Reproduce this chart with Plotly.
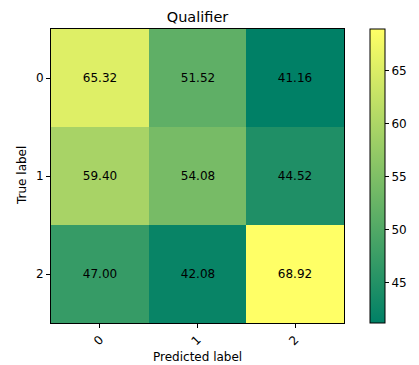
import plotly.graph_objects as go

# Confusion matrix values (percent)
classes = ["0", "1", "2"]
matrix = [
    [65.32, 51.52, 41.16],
    [59.40, 54.08, 44.52],
    [47.00, 42.08, 68.92],
]
cbar_ticks = [45, 50, 55, 60, 65]

FONT = "DejaVu Sans"
FS = 12
W, H = 419, 365
ML, MR, MT, MB = 51, 75, 29, 42

# matplotlib "summer" colormap: dark green -> yellow
summer = [[0.0, "rgb(0,128,102)"], [1.0, "rgb(255,255,102)"]]

fig = go.Figure(
    go.Heatmap(
        z=matrix,
        x=[0, 1, 2],
        y=[0, 1, 2],
        colorscale=summer,
        texttemplate="%{z:.2f}",
        textfont=dict(family=FONT, size=FS, color="black"),
        xgap=0,
        ygap=0,
        colorbar=dict(
            x=1.089,
            xanchor="left",
            y=0.5,
            yanchor="middle",
            len=1.0,
            lenmode="fraction",
            thickness=15,
            thicknessmode="pixels",
            outlinewidth=1,
            outlinecolor="black",
            tickvals=cbar_ticks,
            ticks="outside",
            ticklen=4,
            tickcolor="black",
            tickfont=dict(family=FONT, size=FS, color="black"),
            xpad=0,
            ypad=0,
        ),
    )
)

plot_w = W - ML - MR
plot_h = H - MT - MB

fig.update_layout(
    width=W,
    height=H,
    margin=dict(l=ML, r=MR, t=MT, b=MB, autoexpand=False),
    paper_bgcolor="white",
    plot_bgcolor="white",
    title=dict(
        text="Qualifier",
        x=(ML + W - MR) / 2 / W,
        xanchor="center",
        y=1 - 17 / H,
        yanchor="middle",
        font=dict(family=FONT, size=14.5, color="black"),
    ),
    annotations=[
        dict(
            text="Predicted label",
            xref="paper", yref="paper",
            x=0.5, y=-(357 - (H - MB)) / plot_h,
            xanchor="center", yanchor="middle",
            showarrow=False,
            font=dict(family=FONT, size=FS, color="black"),
        ),
        dict(
            text="True label",
            xref="paper", yref="paper",
            x=-(ML - 22) / plot_w, y=0.5,
            xanchor="center", yanchor="middle",
            textangle=-90,
            showarrow=False,
            font=dict(family=FONT, size=FS, color="black"),
        ),
    ],
)

axis_common = dict(
    tickvals=[0, 1, 2],
    ticktext=classes,
    ticks="outside",
    ticklen=4,
    tickcolor="black",
    tickfont=dict(family=FONT, size=FS, color="black"),
    showline=True,
    linecolor="black",
    linewidth=1,
    mirror=True,
    showgrid=False,
    zeroline=False,
    automargin=False,
)
fig.update_xaxes(range=[-0.5, 2.5], tickangle=-45, **axis_common)
fig.update_yaxes(range=[2.5, -0.5], **axis_common)

fig.write_html("out.html")
